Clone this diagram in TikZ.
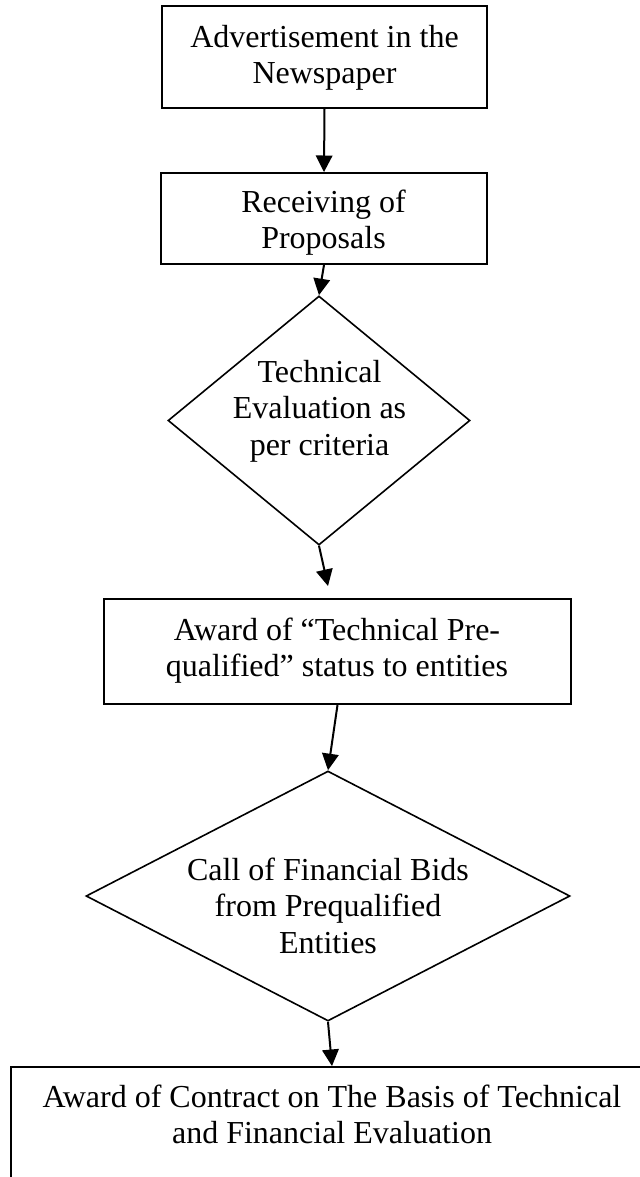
\documentclass[tikz,border=0pt]{standalone}
\usepackage{fontspec}
\setmainfont{Liberation Serif}
\usetikzlibrary{shapes.geometric,arrows.meta}
\tikzset{
  boxnode/.style={draw, line width=0.75pt, rectangle, inner sep=0pt},
  diamondnode/.style={draw, line width=0.6pt, diamond, inner sep=0pt},
  txt/.style={anchor=base, inner sep=0pt, font=\fontsize{12}{13.8}\selectfont},
  flow/.style={line width=0.75pt, -{Triangle[length=6.2pt,width=6.2pt]}}
}
\newcommand{\lines}[1]{\begin{tabular}[t]{@{}c@{}}#1\end{tabular}}
\begin{document}
\begin{tikzpicture}[x=0.375pt,y=-0.375pt]
\useasboundingbox (0,0) rectangle (640,1177);
\clip (0,0) rectangle (640,1177);
% shapes
\node[boxnode, minimum width=121.9pt, minimum height=38.25pt] (b1) at (324.5,57) {};
\node[boxnode, minimum width=122.25pt, minimum height=34.1pt] (b2) at (324,218.5) {};
\node[diamondnode, minimum width=113.25pt, minimum height=93.4pt] (d1) at (319,420.5) {};
\node[boxnode, minimum width=175.1pt, minimum height=39.4pt] (b3) at (337.5,651.5) {};
\node[diamondnode, minimum width=181.5pt, minimum height=93.75pt] (d2) at (328,896) {};
\node[boxnode, minimum width=240.75pt, minimum height=68.6pt] (b4) at (332,1158.5) {};
% texts
\node[txt] (t1) at (324.5,47) {\lines{Advertisement in the\\Newspaper}};
\node[txt] (t2) at (323.5,212) {\lines{Receiving of\\Proposals}};
\node[txt] (t3) at (319.5,382) {\lines{Technical\\Evaluation as\\per criteria}};
\node[txt] (t4) at (337,640) {\lines{Award of “Technical Pre-\\qualified” status to entities}};
\node[txt] (t5) at (328,880) {\lines{Call of Financial Bids\\from Prequalified\\Entities}};
\node[txt] (t6) at (332,1107) {\lines{Award of Contract on The Basis of Technical\\and Financial Evaluation}};
% connectors
\coordinate (c3) at (328,586);
\draw[flow] (b1.south) -- (b2.north);
\draw[flow] (b2.south) -- (d1.north);
\draw[flow] (d1.south) -- (c3);
\draw[flow] (b3.south) -- (d2.north);
\draw[flow] (d2.south) -- (b4.north);
\end{tikzpicture}
\end{document}
